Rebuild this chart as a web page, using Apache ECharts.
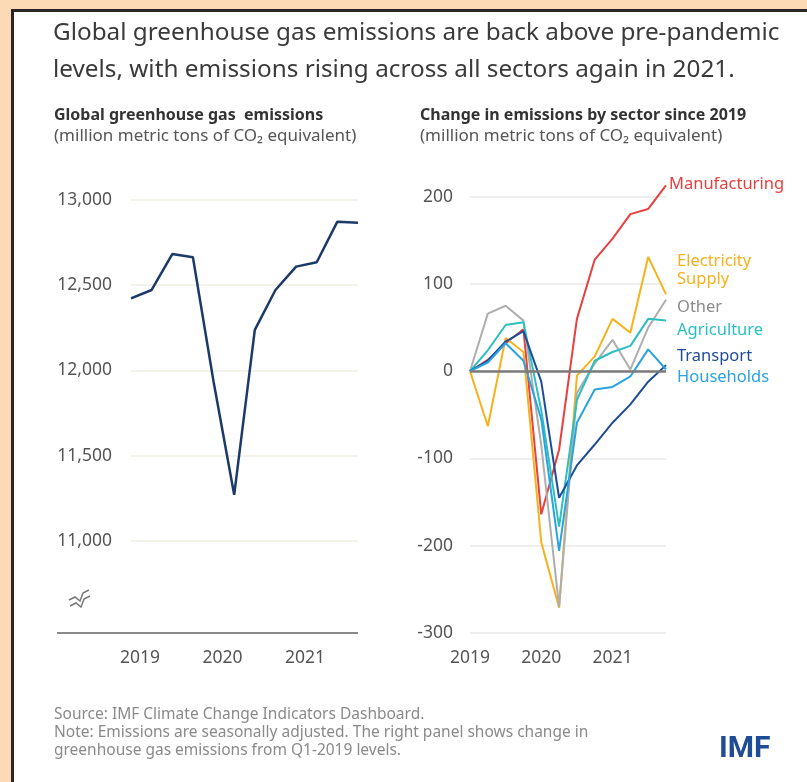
<!DOCTYPE html>
<html>
<head>
<meta charset="utf-8">
<script src="https://cdn.jsdelivr.net/npm/echarts@6/dist/echarts.min.js"></script>
<style>
  html, body { margin:0; padding:0; width:807px; height:782px; overflow:hidden; background:#FDDAB6; }
  #frame { position:absolute; left:11px; top:9px; width:820px; height:800px; background:#fff; border:3px solid #2b2626; box-sizing:border-box; }
  #chart { position:absolute; left:0; top:0; width:807px; height:782px; }
</style>
</head>
<body>
<div id="frame"></div>
<div id="chart"></div>
<script>
// ---- data ----
const quarters = ['2019Q1','2019Q2','2019Q3','2019Q4','2020Q1','2020Q2','2020Q3','2020Q4','2021Q1','2021Q2','2021Q3','2021Q4'];
const totalEmissions = [12423, 12472, 12683, 12664, 11935, 11270, 12238, 12472, 12609, 12635, 12873, 12867];
const leftTicks = [11000, 11500, 12000, 12500, 13000];
const rightTicks = [-300, -200, -100, 0, 100, 200];

const sectorNames = ['Manufacturing', 'Electricity Supply', 'Other', 'Agriculture', 'Transport', 'Households'];
const manufacturing = [0, 13, 32, 48, -164, -90, 60, 128, 152, 180, 186, 213];
const electricity   = [0, -63, 38, 22, -196, -271, -5, 17, 60, 44, 131, 88];
const other         = [0, 66, 75, 58, -85, -270, -25, 9, 36, 2, 50, 82];
const agriculture   = [0, 24, 53, 56, -45, -178, -33, 12, 22, 29, 60, 58];
const transport     = [0, 12, 34, 46, -12, -145, -108, -84, -59, -38, -12, 7];
const households    = [0, 10, 32, 12, -55, -206, -59, -21, -18, -6, 25, 2];

const FONT = '"Noto Sans", "Open Sans", sans-serif';
const sectorData = [manufacturing, electricity, other, agriculture, transport, households];
const sectorColors = ['#E8403E', '#F6B21B', '#AEAEAE', '#2CBFC1', '#1F4C99', '#29A3E1'];
const labelColors  = ['#E8403E', '#F6B21B', '#8a8a8a', '#2CBFC1', '#1F4C99', '#29A3E1'];
const labelOffsets = [[-1,-1],[7,-24],[7,8],[7,10],[7,-9],[7,8]];
const labelText    = ['Manufacturing', 'Electricity\nSupply', 'Other', 'Agriculture', 'Transport', 'Households'];

const chart = echarts.init(document.getElementById('chart'), null, {renderer:'canvas'});

const sectorSeries = sectorNames.map((n, i) => ({
  name: n, type: 'line', xAxisIndex: 1, yAxisIndex: 1,
  data: sectorData[i], symbol: 'none', clip: false,
  lineStyle: { color: sectorColors[i], width: 2 },
  itemStyle: { color: sectorColors[i] },
  z: 3,
  endLabel: {
    show: true, formatter: labelText[i], color: labelColors[i], distance: 4,
    offset: labelOffsets[i], fontFamily: FONT, fontSize: 16.5, lineHeight: 18, align: 'left'
  }
}));
sectorSeries.push({
  name: 'zero', type: 'line', xAxisIndex: 1, yAxisIndex: 1, data: [], symbol: 'none',
  markLine: { silent: true, symbol: 'none', label: { show: false },
    lineStyle: { color: '#7a7a7a', width: 2.5, type: 'solid' },
    data: [{ yAxis: 0 }] }, z: 2
});

const option = {
  animation: false,
  backgroundColor: 'transparent',
  title: [
    { text: 'Global greenhouse gas emissions are back above pre-pandemic\nlevels, with emissions rising across all sectors again in 2021.',
      left: 48, top: 10, textStyle: { fontFamily: FONT, fontSize: 24.3, fontWeight: 'normal', color: '#3a3a3a', lineHeight: 37 } },
    { text: 'Global greenhouse gas  emissions', left: 49, top: 102,
      textStyle: { fontFamily: FONT, fontSize: 16, fontWeight: 'bold', color: '#333' } },
    { text: '(million metric tons of CO₂ equivalent)', left: 49, top: 123,
      textStyle: { fontFamily: FONT, fontSize: 17, fontWeight: 'normal', color: '#555' } },
    { text: 'Change in emissions by sector since 2019', left: 415, top: 102,
      textStyle: { fontFamily: FONT, fontSize: 16, fontWeight: 'bold', color: '#333' } },
    { text: '(million metric tons of CO₂ equivalent)', left: 415, top: 123,
      textStyle: { fontFamily: FONT, fontSize: 17, fontWeight: 'normal', color: '#555' } },
    { text: 'Source: IMF Climate Change Indicators Dashboard.\nNote: Emissions are seasonally adjusted. The right panel shows change in\ngreenhouse gas emissions from Q1-2019 levels.',
      left: 49, top: 701, textStyle: { fontFamily: FONT, fontSize: 15.5, fontWeight: 'normal', color: '#8a8a8a', lineHeight: 18 } },
    { text: 'IMF', left: 714, top: 729,
      textStyle: { fontFamily: 'Roboto, Arial, sans-serif', fontSize: 30, fontWeight: 'bold', color: '#1E4C96' } }
  ],
  grid: [
    { left: 131, right: 449, top: 200, bottom: 156 },
    { left: 470, right: 141, top: 196.7, bottom: 149 }
  ],
  xAxis: [
    { type: 'category', gridIndex: 0, data: quarters, boundaryGap: false,
      axisLine: { show: false }, axisTick: { show: false },
      axisLabel: { interval: 3, formatter: v => v.slice(0,4), color: '#555', fontFamily: FONT, fontSize: 17.5,
        margin: 23, padding: [0,0,0,18] } },
    { type: 'category', gridIndex: 1, data: quarters, boundaryGap: false,
      axisLine: { show: false }, axisTick: { show: false },
      axisLabel: { interval: 3, formatter: v => v.slice(0,4), color: '#555', fontFamily: FONT, fontSize: 17.5, margin: 16 } }
  ],
  yAxis: [
    { type: 'value', gridIndex: 0, min: 10500, max: 13000, interval: 500,
      axisLine: { show: false }, axisTick: { show: false },
      splitLine: { show: true, showMinLine: false, lineStyle: { color: '#eeeee4', width: 1.5 } },
      axisLabel: { showMinLabel: false, margin: 19, color: '#555', fontFamily: FONT, fontSize: 17.5,
        formatter: v => v.toLocaleString('en-US') } },
    { type: 'value', gridIndex: 1, min: -300, max: 200, interval: 100,
      axisLine: { show: false }, axisTick: { show: false },
      splitLine: { show: true, lineStyle: { color: '#e8e8e8', width: 1.5 } },
      axisLabel: { margin: 17, color: '#555', fontFamily: FONT, fontSize: 17.5 } }
  ],
  series: [
    { name: 'Global greenhouse gas emissions', type: 'line', xAxisIndex: 0, yAxisIndex: 0,
      data: totalEmissions, symbol: 'none', lineStyle: { color: '#1C3A68', width: 2.5 } }
  ].concat(sectorSeries),
  graphic: [
    { type: 'line', shape: { x1: 57, y1: 633, x2: 358, y2: 633 }, style: { stroke: '#8a8a8a', lineWidth: 2 } },
    { type: 'polyline', shape: { points: [[69,600],[75,597],[80,601],[83,593],[89,590]] }, style: { stroke: '#777', lineWidth: 1.5, fill: null } },
    { type: 'polyline', shape: { points: [[70,606],[76,603],[81,607],[84,599],[90,596]] }, style: { stroke: '#777', lineWidth: 1.5, fill: null } }
  ]
};
chart.setOption(option);
</script>
</body>
</html>
